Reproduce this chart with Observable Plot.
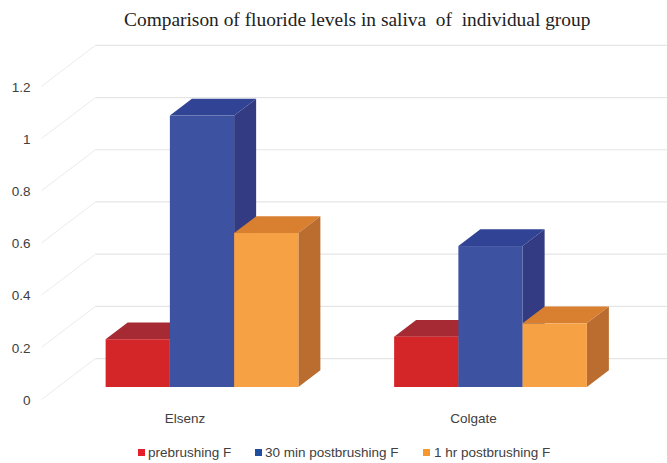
<!DOCTYPE html>
<html>
<head>
<meta charset="utf-8">
<script src="https://cdn.jsdelivr.net/npm/d3@7"></script>
<script src="https://cdn.jsdelivr.net/npm/@observablehq/plot@0.6"></script>
<style>
  html, body { margin: 0; padding: 0; background: #fff; }
  #wrap { width: 667px; height: 463px; overflow: hidden; position: relative; }
  #title { height: 36px; padding-left: 124px; font: 19.4px/40px "Liberation Serif", serif; color: #222; white-space: pre; box-sizing: border-box; }
  #chart svg { display: block; }
  #legend { position: absolute; top: 444px; left: 0; width: 667px; height: 19px; font: 13.5px/18px "Liberation Sans", Arial, sans-serif; color: #404040; white-space: nowrap; }
  #legend span.item { position: absolute; top: 0; }
  #legend i { position: absolute; top: 5px; width: 7px; height: 7px; }
</style>
</head>
<body>
<div id="wrap">
  <div id="title">Comparison of fluoride levels in saliva  of  individual group</div>
  <div id="chart"></div>
  <div id="legend"></div>
</div>
<script>
const categories = ["Elsenz", "Colgate"];
const seriesNames = ["prebrushing F", "30 min postbrushing F", "1 hr postbrushing F"];
const prebrushing = [0.183, 0.193];
const thirtyMin = [1.04, 0.54];
const oneHour = [0.59, 0.244];
const yTicks = [0, 0.2, 0.4, 0.6, 0.8, 1, 1.2];
const seriesValues = [prebrushing, thirtyMin, oneHour];

// appearance of each series: front, top and side face colours
const frontColors = ["#d42529", "#3d52a1", "#f6a144"];
const topColors = ["#a52a33", "#304394", "#d98030"];
const sideColors = ["#8f2530", "#333b82", "#bb6c2f"];
const legendColors = ["#e31f2b", "#1f4e9e", "#f7982f"];

// 3D projection in scale units
const barW = 0.2227, depthX = 0.0763, depthY = 0.064;
const backLift = 0.111, frontDrop = 0.046;
const wallFront = -0.558, wallBack = -0.371, wallRight = 1.62;

const marks = [];
// walls and gridlines
marks.push(Plot.link(yTicks, {
  x1: () => wallFront, x2: () => wallBack,
  y1: d => d - frontDrop, y2: d => d + backLift,
  stroke: "#ebebeb", strokeWidth: 1
}));
marks.push(Plot.link(yTicks, {
  x1: () => wallBack, x2: () => wallRight,
  y1: d => d + backLift, y2: d => d + backLift,
  stroke: "#e5e5e5", strokeWidth: 1.2
}));

seriesValues.forEach((vals, s) => {
  const rows = vals.map((v, c) => ({c, v, x0: c + (s - 1.5) * barW}));
  const topPts = rows.flatMap(r => [
    {c: r.c, y: r.v, x1: r.x0, x2: r.x0 + barW},
    {c: r.c, y: r.v + depthY, x1: r.x0 + depthX, x2: r.x0 + barW + depthX}
  ]);
  const sidePts = rows.flatMap(r => [
    {c: r.c, x: r.x0 + barW, y1: 0, y2: r.v},
    {c: r.c, x: r.x0 + barW + depthX, y1: depthY, y2: r.v + depthY}
  ]);
  marks.push(Plot.areaX(topPts, {y: "y", x1: "x1", x2: "x2", z: "c", fill: topColors[s]}));
  marks.push(Plot.areaY(sidePts, {x: "x", y1: "y1", y2: "y2", z: "c", fill: sideColors[s]}));
  marks.push(Plot.rect(rows, {x1: "x0", x2: r => r.x0 + barW, y1: () => 0, y2: "v", fill: frontColors[s]}));
});

marks.push(Plot.axisY({
  ticks: yTicks, tickFormat: d => String(d), tickSize: 0, tickPadding: 6,
  dy: 13, fontSize: 13.5, fill: "#404040", label: null
}));
marks.push(Plot.axisX({
  ticks: categories.map((_, i) => i), tickFormat: i => categories[i],
  tickSize: 0, tickPadding: 26, dx: -17.5, fontSize: 13.5, fill: "#404040", label: null, anchor: "bottom"
}));

const plot = Plot.plot({
  width: 667, height: 400,
  marginLeft: 36, marginRight: 0, marginTop: 0, marginBottom: 49,
  x: {type: "linear", domain: [0, 1], range: [202, 490.5]},
  y: {type: "linear", domain: [0, 1.2], range: [351, 37.8]},
  style: {background: "#fff", fontFamily: '"Liberation Sans", Arial, sans-serif'},
  marks
});
document.getElementById("chart").appendChild(plot);

// legend
const legendLeft = [138, 255, 423];
const legend = document.getElementById("legend");
seriesNames.forEach((n, i) => {
  const item = document.createElement("span");
  item.className = "item";
  item.style.left = legendLeft[i] + "px";
  const sw = document.createElement("i");
  sw.style.left = "0";
  sw.style.background = legendColors[i];
  const t = document.createElement("span");
  t.textContent = n;
  t.style.marginLeft = (i === 2 ? 11 : 10) + "px";
  item.append(sw, t);
  legend.appendChild(item);
});
</script>
</body>
</html>
